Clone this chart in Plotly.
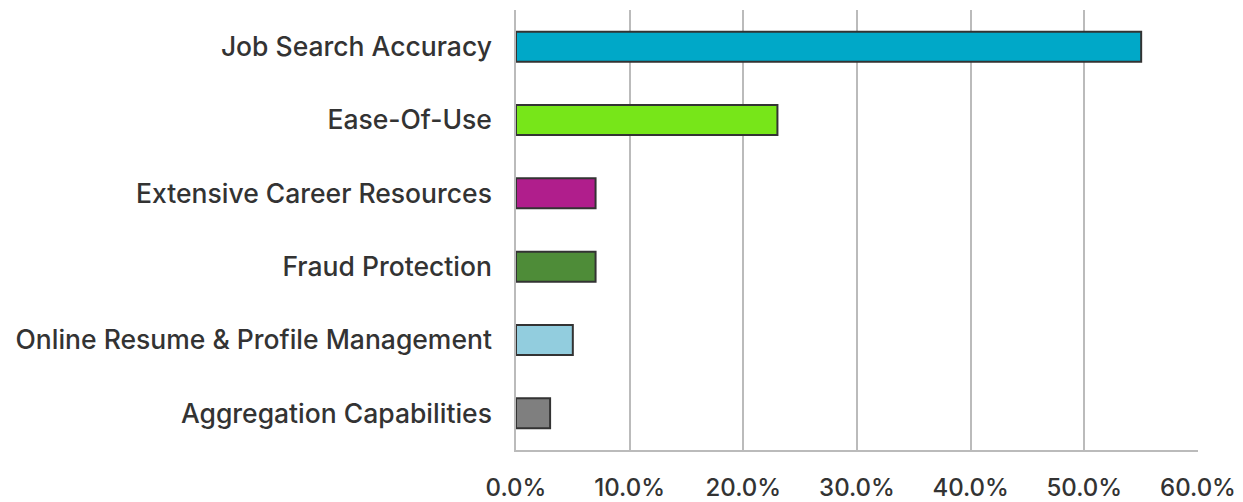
import plotly.graph_objects as go

categories = ["Job Search Accuracy", "Ease-Of-Use", "Extensive Career Resources",
              "Fraud Protection", "Online Resume & Profile Management", "Aggregation Capabilities"]
values = [0.55, 0.23, 0.07, 0.07, 0.05, 0.03]
colors = ["#00A8C8", "#77E619", "#B01E8C", "#4E8C38", "#92CDDE", "#7F7F7F"]
tick_vals = [0, 0.1, 0.2, 0.3, 0.4, 0.5, 0.6]

fig = go.Figure(go.Bar(
    y=categories, x=values, orientation="h",
    marker=dict(color=colors, line=dict(color="#333333", width=2)),
    width=0.41,
))

font = dict(family="Inter, Liberation Sans, Arial, sans-serif", size=26.5, color="#333333", weight=500)
xfont = dict(family="Inter, Liberation Sans, Arial, sans-serif", size=24, color="#333333", weight=500)
fig.update_layout(
    width=1235, height=494,
    margin=dict(l=508, r=45, t=2, b=52),
    paper_bgcolor="white", plot_bgcolor="white",
    showlegend=False,
    font=font,
)
fig.update_xaxes(
    range=[0, 0.6], tickvals=tick_vals, tickformat=".1%",
    showgrid=True, gridcolor="#BBBBBB", gridwidth=1.5,
    showline=True, linecolor="#BBBBBB", linewidth=1.5,
    zeroline=False, ticks="", ticklabelstandoff=15,
    tickfont=xfont, automargin=False,
)
fig.update_yaxes(
    autorange="reversed", showline=True, linecolor="#BBBBBB", linewidth=1.5,
    ticks="", ticklabelstandoff=17, tickfont=font, automargin=False,
)
fig.write_html("out.html")
